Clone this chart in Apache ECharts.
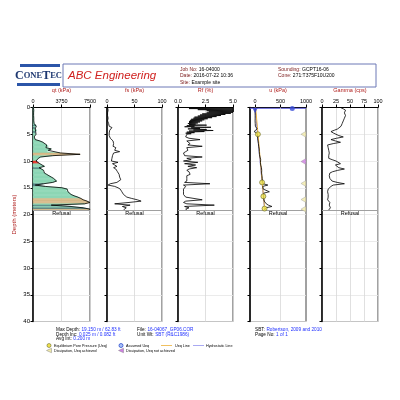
<!DOCTYPE html>
<html><head><meta charset="utf-8">
<script src="https://cdn.jsdelivr.net/npm/echarts@6/dist/echarts.min.js"></script>
<style>html,body{margin:0;padding:0;background:#fff}#c{width:400px;height:400px}</style>
</head><body><div id="c"></div>
<script>
// ---- data ----
const depth = [0,0.25,0.5,0.75,1,1.25,1.5,1.75,2,2.25,2.5,2.75,3,3.25,3.5,3.75,4,4.25,4.5,4.75,5,5.25,5.5,5.75,6,6.25,6.5,6.75,7,7.25,7.5,7.75,8,8.25,8.5,8.75,9,9.25,9.5,9.75,10,10.25,10.5,10.75,11,11.25,11.5,11.75,12,12.25,12.5,12.75,13,13.25,13.5,13.75,14,14.25,14.5,14.75,15,15.25,15.5,15.75,16,16.25,16.5,16.75,17,17.25,17.5,17.75,18,18.25,18.5,18.75,19,19.15];
const qt = [50,80,100,90,80,70,80,90,100,90,100,120,
  150,350,420,250,300,500,350,250,400,200,150,200,300,
  900,1300,1500,1800,2000,1700,2400,2000,1800,
  3600,6200,2600, 1000,700,500, 400,600, 900,1100,1500, 800,
  1100,1400,1300,1500,1800,2100,2400,2700,2900,3100,
  2600,1400,300, 1600,3800,4500,4300,4600,4800,5000,5400,5900,
  6300,6600,7100,7500, 6800,2400,5000,6600,7500,7400];
const sbtZone = [5,5,5,5,5,5,5,5,5,5,5,5, 5,4,5,4,5,5,4,5,5,5,5,5,5, 5,5,5,5,5,5,5,5,5, 6,6,5, 5,5,5, 1,1, 5,5,5, 4, 5,5,5,5,5,5,5,5,5,5, 5,4,4, 5,5,5,5,5,5,5,5,5, 6,6,6,6, 5,4,5,4,6,6];
const fs = [1,2,2,1,1,2,1,1,2,2,1,2,
  3,6,4,9,12,5,8,4,3,4,3,6,9,
  11,8,12,14,11,16,18,14,23,
  12,15,10, 13,9,12, 8,20, 10,14,18, 12,
  16,14,19,17,22,19,23,21,25,22,
  18,6,2, 14,20,24,22,27,25,30,32,36,
  45,55,62,40, 14,42,28,35,38,30];
const u = [0,2,0,1,0,2,1,0,1,2,0,1,
  3,2,5,10,40,10,-20,30,45,50,55,50,60,
  58,62,65,68,70,72,80,75,82,
  78,85,90, 95,100,110, 120,105, 115,110,120, 125,
  118,130,135,128,140,135,145,140,150,145,
  140,160,250, 150,155,160,180,280,170,165,170,175,
  168,172,180,200, 220,260,330,210,190,188];
const gamma = [33,38,42,44,40,37,42,45,40,43,38,41,
  36,39,34,37,28,22,16,20,25,30,38,26,16,
  24,33,20,10,12,11,13,12,10,
  13,11,12, 14,12,18, 25,22, 33,24,22, 30,
  40,28,19,14,12,13,11,14,12,18,
  27,40,20, 16,13,11,12,10,12,11,13,11,
  12,10,12,14, 11,13,12,15,13,12];
const rfDepth = [0,0.1,0.2,0.3,0.4,0.5,0.6,0.7,0.8,0.9,1.0,1.1,1.2,1.3,1.4,1.5,1.6,1.7,1.8,1.9,2.0,2.1,2.2,2.3,2.4,2.5,2.6,2.7,2.8,2.9,3.0,3.1,3.2,3.3,3.4,3.5,3.6,3.7,3.8,3.9,4.0,4.1,4.2,4.3,4.4,4.5,4.6,4.7,4.8,4.9,5.0,
  5.25,5.5,5.75,6,6.25,6.5,6.75,7,7.25,7.5,7.75,8,8.25,8.5,8.75,9,9.25,9.5,9.75,10,10.25,10.5,10.75,11,11.25,11.5,11.75,12,12.25,12.5,12.75,13,13.25,13.5,13.75,14,14.25,14.5,14.75,15,15.25,15.5,15.75,16,16.25,16.5,16.75,17,17.25,17.5,17.75,18,18.25,18.5,18.75,19,19.15];
const rf = [0.6,5.2,1.0,5.2,1.8,5.2,2.6,5.2,2.8,5.0,2.6,4.8,2.2,4.3,2.0,3.9,1.8,3.5,1.5,3.1,1.4,2.7,1.2,2.4,1.1,2.2,1.0,2.0,1.0,1.8,0.9,1.6,1.0,2.6,0.8,1.5,0.6,3.0,1.2,2.0,0.9,2.6,1.4,3.2,1.0,2.4,0.8,1.5,0.7,1.2,0.8,
  0.9,0.7,1.0,2.0,0.8,0.7,1.1,0.9,2.2,0.8,0.7,0.9,0.7,0.5,0.4,0.6,2.2,0.8,1.2,0.5,1.8,0.6,1.6,0.9,1.7,1.0,0.8,1.0,0.9,1.1,0.8,0.9,0.8,0.7,0.8,0.6,2.9,0.5,0.7,0.6,0.5,0.6,0.5,0.6,0.5,0.6,0.7,0.6,2.2,0.7,0.5,0.8,3.3,0.6,1.0,0.7,0.8];
const hydroDepth = [0, 19.15];
const hydroU = [0, 188];
const ueqLineDepth = [0, 5, 14, 16.6, 19.15];
const ueqLineU = [10, 58, 140, 165, 190];
const ueqPtDepth = [5.0, 14.0, 16.6, 18.9];
const ueqPtU = [55, 138, 163, 186];
const dissDepth = [5.0, 10.1, 14.2, 17.2, 19.0];
const dissU = [950, 950, 950, 950, 950];
const dissAchieved = [true, false, true, true, true];
const refusalDepth = 19.15;
const uTicks = [0, 500, 1000];

// ---- chart ----
const zoneColor = {1:'#e5332a', 4:'#4f7f80', 5:'#8dd6b5', 6:'#d6b987'};
const pts = (xs, ys) => xs.map((x, i) => [x, ys[i]]);
const red = '#b0201f';
const panels = [
  {left:33, width:57}, {left:107, width:55}, {left:178, width:55}, {left:250, width:56}, {left:322, width:56}
];
const grids = panels.map(p => ({left:p.left, width:p.width, top:107.5, height:214, show:true, borderColor:'#444', borderWidth:1, containLabel:false}));
const plain = v => String(v);

function xa(i, min, max, interval, name, extra) {
  return Object.assign({
    gridIndex:i, type:'value', position:'top', min, max, interval, name, nameLocation:'middle', nameGap:11,
    nameTextStyle:{color:red, fontSize:5.5, fontFamily:'Arial'},
    axisLine:{show:true, onZero:false, lineStyle:{color:'#000', width:1}},
    axisTick:{show:true, length:3, lineStyle:{color:'#000'}},
    axisLabel:{fontSize:5.5, color:'#000', margin:3, fontFamily:'Arial', formatter:plain, showMinLabel:true, showMaxLabel:true, hideOverlap:false},
    splitLine:{show:true, lineStyle:{color:'#d8d8d8', width:0.8}}
  }, extra || {});
}
function ya(i) {
  return {
    gridIndex:i, type:'value', min:0, max:40, interval:5, inverse:true,
    axisLine:{show:true, onZero:false, lineStyle:{color:'#000', width:1.5}},
    axisTick:{show:true, length:2.5, lineStyle:{color:'#000'}},
    axisLabel:{show:i === 0, fontSize:6, color:'#000', margin:3, fontFamily:'Arial'},
    splitLine:{show:true, lineStyle:{color:'#e6e6e6', width:0.8}},
    name: i === 0 ? 'Depth (meters)' : '', nameLocation:'middle', nameGap:16,
    nameTextStyle:{color:red, fontSize:6, fontFamily:'Arial'}
  };
}
const xAxes = [
  xa(0, 0, 7500, 3750, 'qt (kPa)'),
  xa(1, 0, 100, 50, 'fs (kPa)'),
  xa(2, 0, 5, 2.5, 'Rf (%)', {axisLabel:{fontSize:5.5, color:'#000', margin:3, fontFamily:'Arial', formatter:v => v.toFixed(1)}}),
  xa(3, -100, 1000, 100, 'u (kPa)', {
    axisTick:{show:true, length:3, lineStyle:{color:'#000'}, customValues:uTicks},
    axisLabel:{fontSize:5.5, color:'#000', margin:3, fontFamily:'Arial', formatter:plain, customValues:uTicks},
    splitLine:{show:false}
  }),
  xa(4, 0, 100, 25, 'Gamma (cps)')
];
const yAxes = [0,1,2,3,4].map(ya);

function refusalML(extra) {
  return {silent:true, symbol:['none','none'], animation:false,
    data:[{yAxis:refusalDepth, lineStyle:{color:'#a0a0a0', width:1, type:'solid'},
      label:{show:true, formatter:'Refusal', position:'insideMiddleBottom', fontSize:5.5, color:'#000', distance:1, fontFamily:'Arial'}}].concat(extra || [])};
}
const lineBase = (i, data, color, w, ml) => ({type:'line', xAxisIndex:i, yAxisIndex:i, data, showSymbol:false, symbol:'none',
  lineStyle:{color, width:w}, animation:false, silent:true, markLine: ml, z:3});

const series = [
  {type:'custom', xAxisIndex:0, yAxisIndex:0, data: pts(qt, depth), silent:true, animation:false, z:2,
    renderItem: (params, api) => {
      const i = params.dataIndex;
      if (i >= depth.length - 1) return null;
      const c = zoneColor[sbtZone[i]];
      return {type:'polygon', shape:{points:[api.coord([0, depth[i]]), api.coord([qt[i], depth[i]]), api.coord([qt[i+1], depth[i+1]]), api.coord([0, depth[i+1]])]},
        style:{fill:c, stroke:c, lineWidth:0.5}};
    }},
  lineBase(0, pts(qt, depth), '#000', 0.8, refusalML()),
  lineBase(1, pts(fs, depth), '#000', 0.8, refusalML()),
  lineBase(2, pts(rf, rfDepth), '#000', 0.8, refusalML()),
  lineBase(3, pts(hydroU, hydroDepth), '#6d6de8', 1),
  lineBase(3, pts(ueqLineU, ueqLineDepth), '#f0b840', 1),
  lineBase(3, pts(u, depth), '#000', 0.8, refusalML([{xAxis:500, lineStyle:{color:'#d8d8d8', width:0.8, type:'solid'}, label:{show:false}}])),
  {type:'line', xAxisIndex:3, yAxisIndex:3, data:[[-100, 0.15],[1000, 0.15]], symbol:'none', lineStyle:{color:'#5b5bd6', width:1}, animation:false, silent:true, z:4},
  {type:'scatter', xAxisIndex:3, yAxisIndex:3, data: pts(ueqPtU, ueqPtDepth), symbol:'circle', symbolSize:5,
    itemStyle:{color:'#f1e34b', borderColor:'#6b6b30', borderWidth:0.8}, animation:false, silent:true, z:5},
  {type:'scatter', xAxisIndex:3, yAxisIndex:3, data: dissU.map((x, i) => ({value:[x, dissDepth[i]], itemStyle:{color: dissAchieved[i] ? '#f2eba8' : '#cf7ee3', borderColor:'#999', borderWidth:0.5}})),
    symbol:'triangle', symbolRotate:90, symbolSize:[6,5], animation:false, silent:true, z:5},
  {type:'scatter', xAxisIndex:3, yAxisIndex:3, data:[{value:[0, 0.6], symbol:'triangle', symbolRotate:180, symbolSize:5, itemStyle:{color:'#2f3fd0'}},
    {value:[730, 0.2], symbol:'circle', symbolSize:5, itemStyle:{color:'#3b4fd8'}}], animation:false, silent:true, z:6},
  lineBase(4, pts(gamma, depth), '#000', 0.8, refusalML())
];

// ---- header / footer graphics ----
const T = (x, y, text, opt) => ({type:'text', x, y, silent:true,
  style:Object.assign({text, fontSize:5.5, fontFamily:'Arial', fill:'#000', textVerticalAlign:'middle'}, opt || {})});
const richLV = (x, y, label, value, lcol, vcol, fsz) => T(x, y, '{l|' + label + '} {v|' + value + '}', {rich:{
  l:{fill:lcol, fontSize:fsz, fontFamily:'Arial'}, v:{fill:vcol, fontSize:fsz, fontFamily:'Arial'}}});
const blue = '#1f2fff';
const lg = 3.7;
const graphic = [
  {type:'rect', shape:{x:20, y:64, width:40, height:3}, style:{fill:'#2b55a8'}, silent:true},
  {type:'rect', shape:{x:17, y:83, width:43, height:3}, style:{fill:'#2b55a8'}, silent:true},
  T(38.5, 75.5, '{b|C}{s|ONE}{b|T}{s|EC}', {textAlign:'center', rich:{
    b:{fill:'#1d3770', fontSize:12, fontFamily:'Liberation Serif', fontWeight:'bold'},
    s:{fill:'#1d3770', fontSize:8.5, fontFamily:'Liberation Serif', fontWeight:'bold'}}}),
  {type:'rect', shape:{x:63, y:64, width:313, height:23}, style:{fill:'none', stroke:'#6d79b6', lineWidth:1}, silent:true},
  T(68, 76, 'ABC Engineering', {fontSize:11.5, fontStyle:'italic', fill:'#d0211f'}),
  richLV(180, 69.5, 'Job No:', '16-04000', '#7a1a1a', '#000', 5),
  richLV(180, 76, 'Date:', '2016-07-22 10:36', '#7a1a1a', '#000', 5),
  richLV(180, 82.5, 'Site:', 'Example site', '#7a1a1a', '#000', 5),
  richLV(278, 69.5, 'Sounding:', 'GCPT16-06', '#7a1a1a', '#000', 5),
  richLV(278, 76, 'Cone:', '271:T375F10U200', '#7a1a1a', '#000', 5),
  richLV(56, 330, 'Max Depth:', '19.150 m / 62.83 ft', '#000', blue, 4.7),
  richLV(56, 334.5, 'Depth Inc:', '0.025 m / 0.082 ft', '#000', blue, 4.7),
  richLV(56, 339, 'Avg Int:', '0.200 m', '#000', blue, 4.7),
  richLV(137, 330, 'File:', '16-04067_GP06.COR', '#000', blue, 4.7),
  richLV(137, 334.5, 'Unit Wt:', 'SBT (R&C1986)', '#000', blue, 4.7),
  richLV(255, 330, 'SBT:', 'Robertson, 2009 and 2010', '#000', blue, 4.7),
  richLV(255, 334.5, 'Page No:', '1 of 1', '#000', blue, 4.7),
  {type:'circle', shape:{cx:49, cy:345.5, r:2}, style:{fill:'#f1e34b', stroke:'#6b6b30', lineWidth:0.6}, silent:true},
  T(54, 345.5, 'Equilibrium Pore Pressure (Ueq)', {fontSize:lg}),
  {type:'circle', shape:{cx:121, cy:345.5, r:2}, style:{fill:'#a8c0f4', stroke:'#3050d0', lineWidth:0.8}, silent:true},
  T(126, 345.5, 'Assumed Ueq', {fontSize:lg}),
  {type:'line', shape:{x1:161, y1:345.5, x2:172, y2:345.5}, style:{stroke:'#f0c060', lineWidth:1}, silent:true},
  T(175, 345.5, 'Ueq Line', {fontSize:lg}),
  {type:'line', shape:{x1:193, y1:345.5, x2:204, y2:345.5}, style:{stroke:'#a9a9f2', lineWidth:1}, silent:true},
  T(206, 345.5, 'Hydrostatic Line', {fontSize:lg}),
  {type:'polygon', shape:{points:[[51.5,348.3],[46.5,350.5],[51.5,352.7]]}, style:{fill:'#f2eba8', stroke:'#888', lineWidth:0.5}, silent:true},
  T(54, 350.5, 'Dissipation, Ueq achieved', {fontSize:lg}),
  {type:'polygon', shape:{points:[[123.5,348.3],[118.5,350.5],[123.5,352.7]]}, style:{fill:'#cf7ee3', stroke:'#888', lineWidth:0.5}, silent:true},
  T(126, 350.5, 'Dissipation, Ueq not achieved', {fontSize:lg})
];

const chart = echarts.init(document.getElementById('c'), null, {renderer:'canvas'});
chart.setOption({
  animation:false, backgroundColor:'#fff',
  grid: grids, xAxis: xAxes, yAxis: yAxes, series, graphic
});
</script></body></html>
